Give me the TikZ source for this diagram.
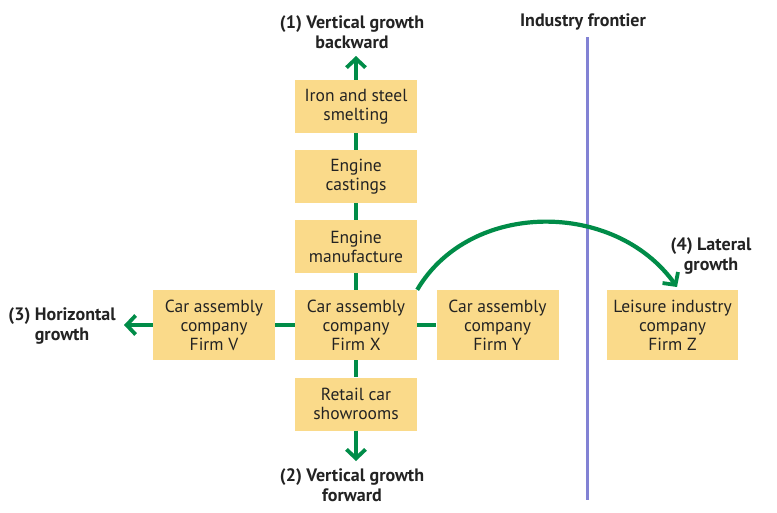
\documentclass[tikz,border=0pt]{standalone}
\usepackage{fontspec}
\setmainfont{PT Sans}
\usetikzlibrary{arrows.meta}
\definecolor{boxfill}{RGB}{250,218,138}
\definecolor{growgreen}{RGB}{0,140,72}
\definecolor{frontierblue}{RGB}{130,130,212}
\definecolor{labeltext}{RGB}{35,35,35}
\begin{document}
\begin{tikzpicture}[x=1pt,y=-1pt,
  stagebox/.style={fill=boxfill,draw=none,minimum width=122pt,minimum height=53pt,
    align=center,font=\fontsize{17.5}{19}\selectfont,text=labeltext,inner sep=0pt},
  firmbox/.style={stagebox,minimum height=70pt},
  link/.style={draw=growgreen,line width=4.2pt},
  growarrow/.style={link,-{Straight Barb[length=9pt,width=19pt,line width=3.8pt]}},
  growlabel/.style={align=center,font=\bfseries\fontsize{18}{20}\selectfont,text=labeltext}]
\useasboundingbox (0,0) rectangle (777,512);
\fill[white] (0,0) rectangle (777,512);

% industry frontier
\node[growlabel] (frontlabel) at (583,22) {Industry frontier};
\coordinate (ftop) at (587,37);
\coordinate (fbot) at (587,500);
\draw[frontierblue,line width=3pt] (ftop) -- (fbot);

% production chain boxes
\node[stagebox] (iron) at (356,106.5) {Iron and steel\\smelting};
\node[stagebox] (cast) at (356,176.5) {Engine\\castings};
\node[stagebox] (eng) at (356,246.5) {Engine\\manufacture};
\node[firmbox] (firmx) at (356,325) {Car assembly\\company\\Firm X};
\node[stagebox] (retail) at (356,404) {Retail car\\showrooms};
\node[firmbox] (firmv) at (214,325) {Car assembly\\company\\Firm V};
\node[firmbox] (firmy) at (497.5,325) {Car assembly\\company\\Firm Y};
\node[firmbox,minimum width=131pt] (firmz) at (672.5,325) {Leisure industry\\company\\Firm Z};

% links between boxes
\draw[link] (iron.south) -- (cast.north);
\draw[link] (cast.south) -- (eng.north);
\draw[link] (eng.south) -- (firmx.north);
\draw[link] (firmx.south) -- (retail.north);
\draw[link] (firmv.east) -- (firmx.west);
\draw[link] (firmx.east) -- (firmy.west);

% growth directions
\node[growlabel] (backlabel) at (352,32) {(1) Vertical growth\\backward};
\coordinate (uptip) at (356,56);
\draw[growarrow] (iron.north) -- (uptip);

\node[growlabel] (fwdlabel) at (352,485) {(2) Vertical growth\\forward};
\coordinate (downtip) at (356,461);
\draw[growarrow] (retail.south) -- (downtip);

\node[growlabel] (horlabel) at (62,326) {(3) Horizontal\\growth};
\coordinate (lefttip) at (124,325);
\draw[growarrow] (firmv.west) -- (lefttip);

\node[growlabel] (latlabel) at (711,256) {(4) Lateral\\growth};
\coordinate (lattip) at (677,287);
\draw[growarrow] (firmx.north east) .. controls (470,200) and (615,200) .. (lattip);
\end{tikzpicture}
\end{document}
